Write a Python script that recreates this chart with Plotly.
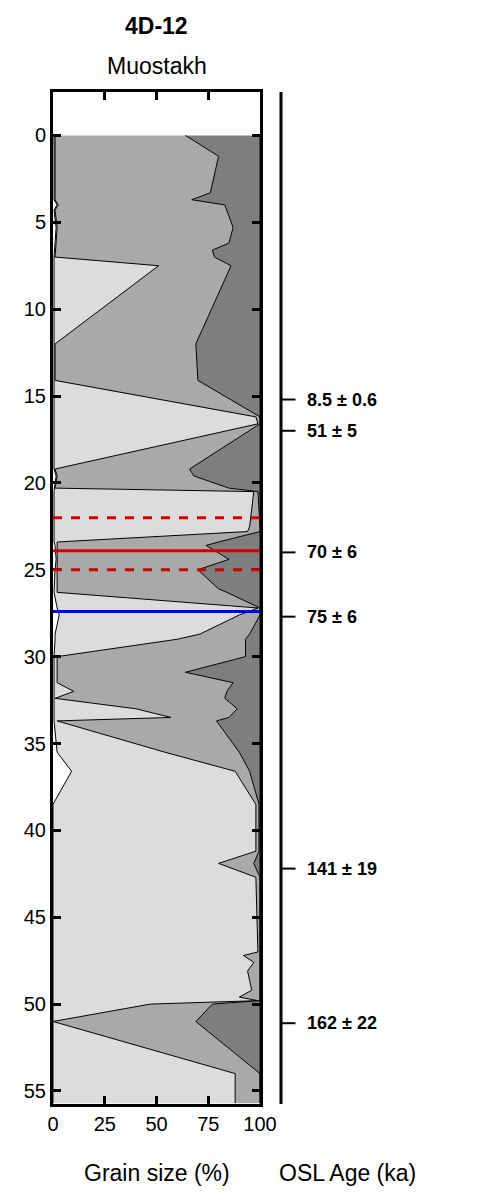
import plotly.graph_objects as go

# depth (m) and cumulative grain-size boundaries (%)
depth = [0, 1.2, 3.3, 3.7, 4.0, 4.3, 5.3, 6.2, 6.6, 7.0, 7.5, 12.0, 14.1, 16.2, 16.6,
         19.2, 19.6, 20.3, 20.5, 22.5, 22.8, 23.4, 23.6, 24.4, 25.0, 26.1, 26.3, 27.2,
         27.6, 28.7, 29.0, 30.0, 30.9, 31.5, 32.0, 32.4, 33.0, 33.5, 33.7, 35.5, 36.6,
         38.5, 41.2, 41.9, 42.7, 47.0, 47.2, 47.6, 48.1, 48.6, 49.2, 49.6, 49.8, 50.0,
         51.0, 54.0, 55.7]
clay_top = [0.5, 0.5, 0.5, 0.5, 2, 0.5, 1.5, 1, 0.5, 0.5, 0.5, 0.5, 0.5, 0.5, 0.5,
            0.5, 1.5, 0.5, 0.5, 0.5, 0.5, 0.5, 1, 1.5, 1, 0.5, 0.5, 2,
            3, 1, 1, 0.5, 0.5, 0.5, 0.5, 0.5, 0.5, 0.5, 0.5, 2, 9,
            0, 0, 0, 0, 0, 0, 0, 0, 0, 0, 0, 0, 0,
            0, 0, 0]
fine_top = [1, 1, 1, 1, 2.5, 1, 2, 1.5, 1, 1, 51, 1, 1, 98, 99,
            1, 2, 1, 97, 95, 94, 2, 2, 2, 2, 2, 2, 99,
            90, 71, 60, 2, 2, 2, 10, 1, 40, 57, 2, 54, 88,
            98, 98, 80, 98, 99, 92, 97, 94, 95, 96, 90, 99, 47,
            0, 88, 88]
medium_top = [64, 80, 76, 67, 83, 84, 87, 85, 77, 78, 86, 69, 70, 100, 100,
              66, 68, 85, 99, 100, 100, 80, 74, 85, 70, 80, 84, 100,
              100, 95, 93, 93, 64, 87, 84, 83, 89, 85, 79, 90, 95,
              99.5, 99.5, 97, 100, 100, 100, 100, 100, 100, 100, 100, 100, 77,
              69, 100, 100]

osl_depth = [15.2, 17.0, 24.0, 27.7, 42.2, 51.1]
osl_label = ["8.5 ± 0.6", "51 ± 5", "70 ± 6", "75 ± 6", "141 ± 19", "162 ± 22"]

clay = clay_top
fine = [f - c for f, c in zip(fine_top, clay_top)]
medium = [m - f for m, f in zip(medium_top, fine_top)]
coarse = [100 - m for m in medium_top]

fig = go.Figure()
for vals, col in [(clay, "white"), (fine, "#dcdcdc"), (medium, "#a9a9a9"), (coarse, "#7e7e7e")]:
    fig.add_trace(go.Scatter(x=vals, y=depth, orientation="h", stackgroup="g",
                             mode="lines", line=dict(color="black", width=1),
                             fillcolor=col, showlegend=False))

for d, dash, col in [(22.0, "dash", "#cc0000"), (23.9, "solid", "#cc0000"),
                     (25.0, "dash", "#cc0000"), (27.4, "solid", "#0000ee")]:
    fig.add_shape(type="line", xref="x", yref="y", x0=0, x1=100, y0=d, y1=d,
                  line=dict(color=col, width=3, dash=dash))

xr = (273 - 45) / 207
fig.add_shape(type="line", xref="paper", yref="paper", x0=xr, x1=xr, y0=0, y1=1,
              line=dict(color="black", width=3))
for d, lab in zip(osl_depth, osl_label):
    fig.add_shape(type="line", xref="paper", yref="y", x0=xr, x1=xr + 0.07, y0=d, y1=d,
                  line=dict(color="black", width=2))
    fig.add_annotation(xref="paper", yref="y", x=(297 - 45) / 207, y=d, text="<b>%s</b>" % lab,
                       showarrow=False, xanchor="left", font=dict(size=18))

fig.add_annotation(xref="paper", yref="paper", x=0.5, y=1, yshift=66, text="<b>4D-12</b>",
                   showarrow=False, font=dict(size=23), yanchor="middle")
fig.add_annotation(xref="paper", yref="paper", x=0.5, y=1, yshift=26, text="Muostakh",
                   showarrow=False, font=dict(size=23), yanchor="middle")
fig.add_annotation(xref="paper", yref="paper", x=0.5, y=0, yshift=-69, text="Grain size (%)",
                   showarrow=False, font=dict(size=23), yanchor="middle")
fig.add_annotation(xref="paper", yref="paper", x=(410 - 45) / 207, y=0, yshift=-69,
                   text="OSL Age (ka)", showarrow=False, font=dict(size=23), yanchor="middle")

axis = dict(showline=True, linecolor="black", linewidth=3, mirror="ticks", ticks="inside",
            ticklen=8, tickwidth=3, tickcolor="black", showgrid=False, zeroline=False,
            tickfont=dict(size=20), automargin=False)
fig.update_xaxes(range=[0, 100], tickvals=[0, 25, 50, 75, 100], **axis)
fig.update_yaxes(range=[55.75, -2.5], tickvals=list(range(0, 60, 5)), **axis)
fig.update_layout(width=490, height=1200, margin=dict(l=45, r=238, t=84, b=104),
                  plot_bgcolor="white", paper_bgcolor="white",
                  font=dict(family="Liberation Sans, Arial", color="black"))

fig.write_html("out.html")
